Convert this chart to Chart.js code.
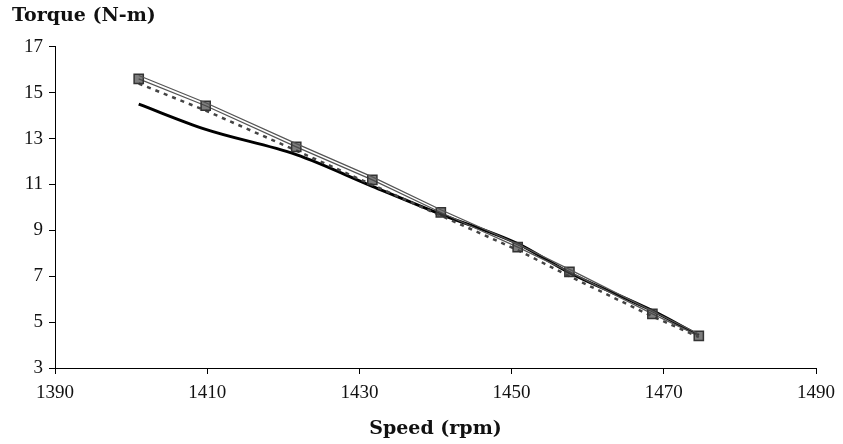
<!DOCTYPE html>
<html>
<head>
<meta charset="utf-8">
<script src="https://cdn.jsdelivr.net/npm/chart.js@4"></script>
<style>
  html, body { margin: 0; padding: 0; background: #fff; }
  .chart-wrapper { width: 843px; height: 444px; }
</style>
</head>
<body>
<div class="chart-wrapper">
  <canvas id="chart" width="843" height="444"></canvas>
</div>
<script>
const speeds = [1401, 1409.8, 1421.7, 1431.7, 1440.7, 1450.8, 1457.6, 1468.5, 1474.6];
const torqueSquares = [15.6, 14.43, 12.64, 11.2, 9.78, 8.27, 7.19, 5.36, 4.4];
const torqueUpper = [15.75, 14.56, 12.78, 11.33, 9.9, 8.4, 7.3, 5.48, 4.48];
const torqueDashed = [15.4, 14.22, 12.48, 10.98, 9.64, 8.14, 7.0, 5.25, 4.35];
const torqueSolid = [14.5, 13.4, 12.3, 10.92, 9.7, 8.42, 7.15, 5.5, 4.42];

const xTicks = [1390, 1410, 1430, 1450, 1470, 1490];
const yTicks = [3, 5, 7, 9, 11, 13, 15, 17];

const toPoints = (vals) => speeds.map((s, i) => ({ x: s, y: vals[i] }));

const serif = "'Liberation Serif', 'Times New Roman', serif";
const boldSerif = "'DejaVu Serif', 'Liberation Serif', serif";

const ctx = document.getElementById("chart").getContext("2d");
new Chart(ctx, {
  type: "line",
  data: {
    datasets: [
      {
        label: "Upper",
        data: toPoints(torqueUpper),
        borderColor: "#555",
        borderWidth: 1.2,
        pointRadius: 0,
        tension: 0,
      },
      {
        label: "Squares",
        data: toPoints(torqueSquares),
        borderColor: "#555",
        borderWidth: 1.2,
        pointStyle: "rect",
        pointRadius: 6.5,
        pointBorderWidth: 1.5,
        pointBorderColor: "#333",
        pointBackgroundColor: "rgba(70,70,70,0.7)",
        tension: 0,
      },
      {
        label: "Dashed",
        data: toPoints(torqueDashed),
        borderColor: "#444",
        borderWidth: 2.5,
        borderDash: [4, 5],
        pointRadius: 0,
        tension: 0,
      },
      {
        label: "Solid",
        data: toPoints(torqueSolid),
        borderColor: "#000",
        borderWidth: 3,
        pointRadius: 0,
        cubicInterpolationMode: "monotone",
      },
    ],
  },
  options: {
    responsive: false,
    animation: false,
    layout: { padding: { left: 12, right: 25, top: 0, bottom: 4 } },
    plugins: {
      legend: { display: false },
      tooltip: { enabled: false },
      title: {
        display: true,
        text: "Torque (N-m)",
        align: "start",
        color: "#111",
        font: { family: boldSerif, size: 19, weight: "bold" },
        padding: { top: 5, bottom: 19 },
      },
    },
    scales: {
      x: {
        type: "linear",
        min: 1390,
        max: 1490,
        afterBuildTicks: (scale) => { scale.ticks = xTicks.map((v) => ({ value: v })); },
        ticks: {
          color: "#111",
          font: { family: serif, size: 19 },
          padding: 8,
          maxRotation: 0,
          callback: (v) => String(v),
        },
        grid: { display: true, drawOnChartArea: false, color: "#000", tickLength: 6 },
        border: { color: "#000", width: 1 },
        title: {
          display: true,
          text: "Speed (rpm)",
          color: "#111",
          font: { family: boldSerif, size: 19, weight: "bold" },
          padding: { top: 8, bottom: 0 },
        },
        afterFit: (scale) => { scale.height = 72; },
      },
      y: {
        min: 3,
        max: 17,
        afterBuildTicks: (scale) => { scale.ticks = yTicks.map((v) => ({ value: v })); },
        ticks: {
          color: "#111",
          font: { family: serif, size: 19 },
          padding: 6,
        },
        grid: { display: true, drawOnChartArea: false, color: "#000", tickLength: 6 },
        border: { color: "#000", width: 1 },
        afterFit: (scale) => { scale.width = 43; },
      },
    },
  },
});
</script>
</body>
</html>
